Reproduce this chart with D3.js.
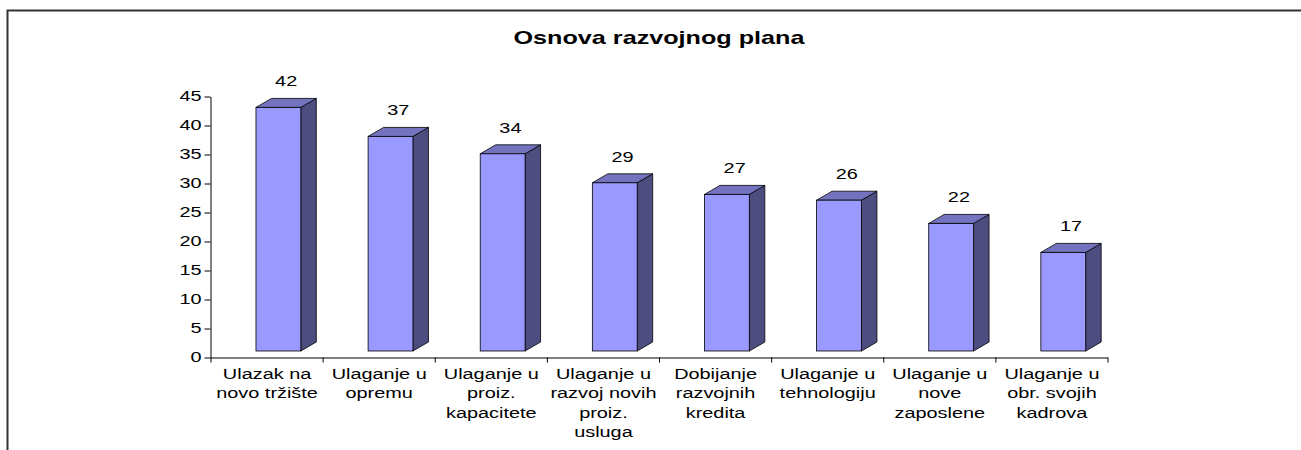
<!DOCTYPE html>
<html>
<head>
<meta charset="utf-8">
<script src="https://cdn.jsdelivr.net/npm/d3@7"></script>
<style>
  body { margin: 0; background: #fff; }
  svg { display: block; font-family: "Liberation Sans", Arial, sans-serif; }
</style>
</head>
<body>
<svg id="chart" width="1301" height="450"></svg>
<script>
// data
const categories = [
    ["Ulazak na", "novo tržište"],
    ["Ulaganje u", "opremu"],
    ["Ulaganje u", "proiz.", "kapacitete"],
    ["Ulaganje u", "razvoj novih", "proiz.", "usluga"],
    ["Dobijanje", "razvojnih", "kredita"],
    ["Ulaganje u", "tehnologiju"],
    ["Ulaganje u", "nove", "zaposlene"],
    ["Ulaganje u", "obr. svojih", "kadrova"]
];
const values = [42, 37, 34, 29, 27, 26, 22, 17];
const yTicks = [0, 5, 10, 15, 20, 25, 30, 35, 40, 45];
const title = "Osnova razvojnog plana";

// the original image is stretched sideways, so text gets squeezed out the same way
const SX = 1.42;

const svg = d3.select('#chart');

// frame (only top and left edges are visible in the crop)
svg.append('path')
    .attr('d', 'M7.5,450 V10.5 H1301')
    .attr('fill', 'none')
    .attr('stroke', '#333')
    .attr('stroke-width', 2);

const x0 = 210, x1 = 1107, yBottom = 357, yTop = 96;

const x = d3.scaleBand()
    .domain(d3.range(values.length))
    .range([x0, x1])
    .padding(0);

const xEdge = d3.scaleLinear()
    .domain([0, values.length])
    .range([x0, x1]);

const y = d3.scaleLinear()
    .domain([0, 45])
    .range([yBottom, yTop]);

// y axis
const yAxis = svg.append('g')
    .attr('transform', `translate(${x0 + 0.5},0.5)`)
    .call(d3.axisLeft(y).tickValues(yTicks).tickSize(6).tickSizeOuter(0));

yAxis.select('.domain').attr('stroke', '#000');
yAxis.selectAll('line').attr('stroke', '#000');
yAxis.selectAll('text')
    .attr('x', -9 / SX)
    .attr('transform', `scale(${SX},1)`)
    .style('font-size', '14px')
    .style('fill', '#000')
    .style('font-family', '"Liberation Sans", Arial, sans-serif');

// x axis (ticks at category edges, no labels)
const xAxis = svg.append('g')
    .attr('transform', `translate(0.5,${yBottom + 0.5})`)
    .call(d3.axisBottom(xEdge).tickValues(d3.range(values.length + 1)).tickFormat('').tickSize(5).tickSizeOuter(0));

xAxis.select('.domain').attr('stroke', '#000');
xAxis.selectAll('line').attr('stroke', '#000');

// 3d bars
const bw = x.bandwidth();
const faceOff = bw * 0.41;
const faceW = bw * 0.40;
const dx = 15.5, dy = 9, lift = 6;

const bars = svg.selectAll('.bar')
    .data(values)
    .enter()
    .append('g')
    .attr('class', 'bar');

// side face
bars.append('path')
    .attr('d', (d, i) => {
        const l = x(i) + faceOff + faceW;
        const t = y(d) - lift;
        const b = y(0) - lift;
        return `M${l},${t} L${l + dx},${t - dy} L${l + dx},${b - dy} L${l},${b} Z`;
    })
    .attr('fill', '#4d4d80')
    .attr('stroke', '#000')
    .attr('stroke-width', 0.8);

// top face
bars.append('path')
    .attr('d', (d, i) => {
        const l = x(i) + faceOff;
        const t = y(d) - lift;
        return `M${l},${t} L${l + dx},${t - dy} L${l + faceW + dx},${t - dy} L${l + faceW},${t} Z`;
    })
    .attr('fill', '#7373bf')
    .attr('stroke', '#000')
    .attr('stroke-width', 0.8);

// front face
bars.append('rect')
    .attr('x', (d, i) => x(i) + faceOff)
    .attr('y', d => y(d) - lift)
    .attr('width', faceW)
    .attr('height', d => y(0) - y(d))
    .attr('fill', '#9999ff')
    .attr('stroke', '#000')
    .attr('stroke-width', 0.8);

// value labels
bars.append('text')
    .attr('transform', (d, i) => `translate(${x(i) + faceOff + (faceW + dx) / 2},${y(d) - lift - dy - 12}) scale(${SX},1)`)
    .style('text-anchor', 'middle')
    .style('font-size', '14px')
    .text(d => d);

// category labels
const catLabels = svg.selectAll('.cat')
    .data(categories)
    .enter()
    .append('text')
    .attr('class', 'cat')
    .attr('transform', (d, i) => `translate(${x(i) + bw / 2 + 1},379) scale(${SX},1)`)
    .style('text-anchor', 'middle')
    .style('font-size', '14px');

catLabels.selectAll('tspan')
    .data(d => d)
    .enter()
    .append('tspan')
    .attr('x', 0)
    .attr('y', (d, i) => i * 19.3)
    .text(d => d);

// title
svg.append('text')
    .attr('transform', `translate(659,44) scale(${SX - 0.02},1)`)
    .style('text-anchor', 'middle')
    .style('font-size', '18px')
    .style('font-weight', 'bold')
    .text(title);
</script>
</body>
</html>
